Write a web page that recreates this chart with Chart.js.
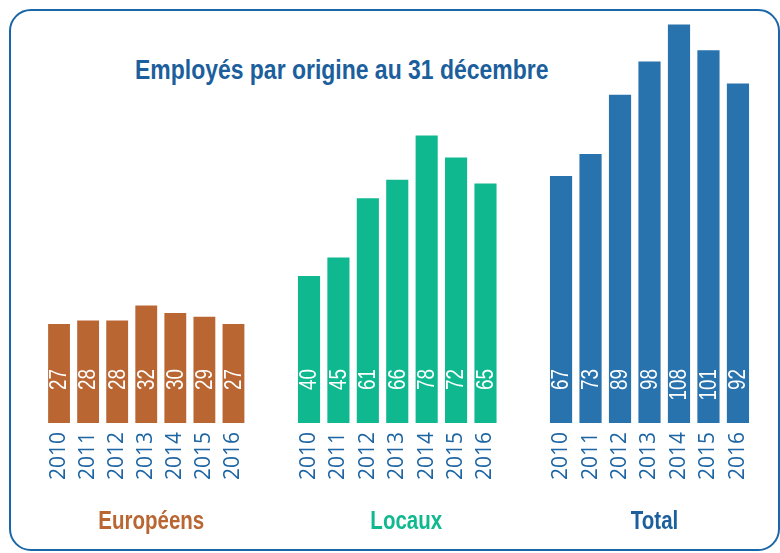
<!DOCTYPE html>
<html>
<head>
<meta charset="utf-8">
<script src="https://cdn.jsdelivr.net/npm/chart.js@4"></script>
<style>
  html, body { margin:0; padding:0; background:#fff; }
  body { width:780px; height:553px; position:relative; overflow:hidden; }
  #frame { position:absolute; left:9px; top:9px; width:771px; height:542px; box-sizing:border-box;
           border:2px solid #1b66a6; border-radius:22px; }
  #title { position:absolute; left:135px; top:56px; line-height:28px; white-space:nowrap;
           font-family:'Liberation Sans',Arial,sans-serif; font-weight:bold;
           font-size:28px; color:#1c5f9c; transform:scaleX(0.82); transform-origin:0 0; }
  canvas { position:absolute; left:0; top:0; }
</style>
</head>
<body>
<div id="frame"></div>
<div id="title">Employés par origine au 31 décembre</div>
<canvas id="c1" width="780" height="553"></canvas>
<canvas id="c2" width="780" height="553"></canvas>
<canvas id="c3" width="780" height="553"></canvas>
<script>
const years = ['2010','2011','2012','2013','2014','2015','2016'];
const europeens = [27, 28, 28, 32, 30, 29, 27];
const locaux = [40, 45, 61, 66, 78, 72, 65];
const total = [67, 73, 89, 98, 108, 101, 92];
const groupNames = ['Européens', 'Locaux', 'Total'];

const SANS = "'Liberation Sans', Arial, sans-serif";
const NARROW_SCALE = 0.82;

const valueLabels = {
  id: 'valueLabels',
  afterDatasetsDraw(chart) {
    const ctx = chart.ctx;
    const meta = chart.getDatasetMeta(0);
    const data = chart.data.datasets[0].data;
    const yBase = chart.scales.y.getPixelForValue(0);
    ctx.save();
    ctx.fillStyle = '#ffffff';
    ctx.font = '23px ' + SANS;
    ctx.textAlign = 'right';
    ctx.textBaseline = 'middle';
    meta.data.forEach((bar, i) => {
      ctx.save();
      ctx.translate(bar.x + 1, yBase - 54);
      ctx.rotate(-Math.PI / 2);
      ctx.scale(NARROW_SCALE, 1);
      ctx.fillText(String(data[i]), 0, 0);
      ctx.restore();
    });
    ctx.restore();
  }
};

const groupLabel = {
  id: 'groupLabel',
  afterDraw(chart, args, opts) {
    const ctx = chart.ctx;
    const area = chart.chartArea;
    const cx = (area.left + area.right) / 2 + (opts.shift || 0);
    ctx.save();
    ctx.fillStyle = opts.color;
    ctx.font = 'bold 25px ' + SANS;
    ctx.textAlign = 'center';
    ctx.textBaseline = 'alphabetic';
    ctx.translate(cx, 529);
    ctx.scale(NARROW_SCALE, 1);
    ctx.fillText(opts.text, 0, 0);
    ctx.restore();
  }
};

function makeChart(id, values, name, color, left, right, shift) {
  new Chart(document.getElementById(id), {
    type: 'bar',
    data: {
      labels: years,
      datasets: [{
        label: name,
        data: values,
        backgroundColor: color,
        borderColor: 'rgba(255,255,255,0.35)',
        borderWidth: 1,
        categoryPercentage: 1,
        barPercentage: 0.82
      }]
    },
    options: {
      responsive: false,
      animation: false,
      events: [],
      layout: { padding: { left: left, right: 780 - right, top: 16, bottom: 0 } },
      plugins: {
        legend: { display: false }, tooltip: { enabled: false }, title: { display: false },
        groupLabel: { text: name, color: color, shift: shift }
      },
      scales: {
        y: { display: false, min: 0, max: 110 },
        x: {
          grid: { display: false, drawTicks: false },
          border: { display: false },
          afterFit(scale) { scale.height = 130; },
          ticks: {
            minRotation: 90, maxRotation: 90, padding: 9, autoSkip: false,
            color: '#1d65a3',
            font: { family: "'Open Sans', sans-serif", size: 21 }
          }
        }
      }
    },
    plugins: [valueLabels, groupLabel]
  });
}

makeChart('c1', europeens, groupNames[0], '#b96633', 44.5, 248, 5);
makeChart('c2', locaux, groupNames[1], '#10b890', 294.3, 500.2, 9);
makeChart('c3', total, groupNames[2], '#1c5f9c', 546.3, 752.7, 5);
// Total bars use a lighter blue than its label
Chart.getChart('c3').data.datasets[0].backgroundColor = '#2872ad';
Chart.getChart('c3').update();
</script>
</body>
</html>
